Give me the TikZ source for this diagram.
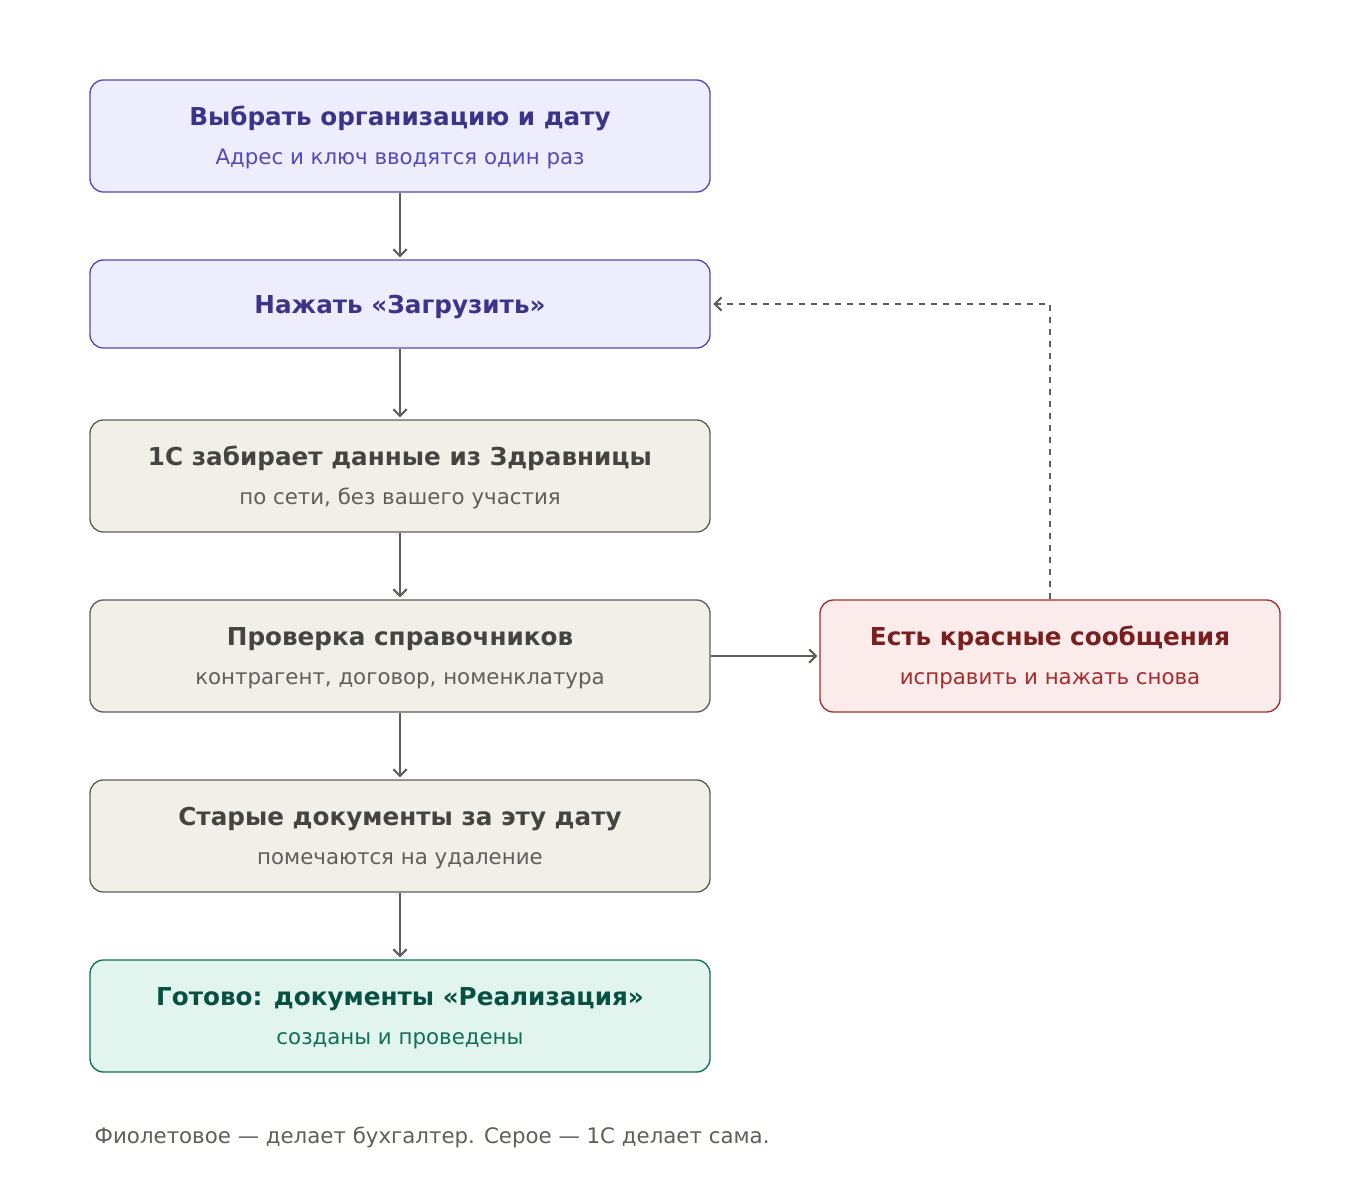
\documentclass[tikz,border=0pt]{standalone}
\usepackage{fontspec}
\setmainfont{DejaVu Sans}
\usetikzlibrary{arrows.meta,positioning}
\definecolor{purfill}{HTML}{EEEDFE}
\definecolor{purline}{HTML}{534AB7}
\definecolor{purtext}{HTML}{3C3489}
\definecolor{grayfill}{HTML}{F1EFE8}
\definecolor{grayline}{HTML}{5F5E5A}
\definecolor{graytext}{HTML}{444441}
\definecolor{redfill}{HTML}{FCEBEB}
\definecolor{redline}{HTML}{A32D2D}
\definecolor{redtext}{HTML}{791F1F}
\definecolor{grnfill}{HTML}{E1F5EE}
\definecolor{grnline}{HTML}{0F6E56}
\definecolor{grntext}{HTML}{085041}
\tikzset{
  box/.style={draw=#1line, fill=#1fill, rounded corners=10pt, line width=1pt,
    minimum width=465pt, minimum height=84pt, inner sep=0pt},
  ttl/.style={anchor=base, font=\fontsize{18.5}{22}\selectfont\bfseries, text=#1},
  sub/.style={anchor=base, font=\fontsize{16}{19}\selectfont, text=#1},
  flow/.style={-{Straight Barb[length=5pt,width=10pt]}, line width=1.6pt, draw=grayline},
}
\begin{document}
\begin{tikzpicture}[x=0.75pt,y=-0.75pt]
    \useasboundingbox (0,0) rectangle (1360,1200);
    % Main column
    \node[box=pur] (pick) at (400,136) {};
    \node[ttl=purtext] (pickT) at (400,125) {Выбрать организацию и дату};
    \node[sub=purline] (pickS) at (400,164) {Адрес и ключ вводятся один раз};

    \node[box=pur, minimum height=66pt] (load) at (400,304) {};
    \node[ttl=purtext] (loadT) at (400,313) {Нажать «Загрузить»};

    \node[box=gray] (fetch) at (400,476) {};
    \node[ttl=graytext] (fetchT) at (400,465) {1С забирает данные из Здравницы};
    \node[sub=grayline] (fetchS) at (400,504) {по сети, без вашего участия};

    \node[box=gray] (check) at (400,656) {};
    \node[ttl=graytext] (checkT) at (400,645) {Проверка справочников};
    \node[sub=grayline] (checkS) at (400,684) {контрагент, договор, номенклатура};

    \node[box=gray] (old) at (400,836) {};
    \node[ttl=graytext] (oldT) at (400,825) {Старые документы за эту дату};
    \node[sub=grayline] (oldS) at (400,864) {помечаются на удаление};

    \node[box=grn] (done) at (400,1016) {};
    \node[ttl=grntext] (doneT) at (400,1005) {Готово: документы «Реализация»};
    \node[sub=grnline] (doneS) at (400,1044) {созданы и проведены};

    % Error branch
    \node[box=red, minimum width=345pt] (err) at (1050,656) {};
    \node[ttl=redtext] (errT) at (1050,645) {Есть красные сообщения};
    \node[sub=redline] (errS) at (1050,684) {исправить и нажать снова};

    % Connectors
    \foreach \a/\b in {pick/load, load/fetch, fetch/check, check/old, old/done}
        \draw[flow] (\a.south) -- ([yshift=1.5pt]\b.north);
    \draw[flow] (check.east) -- ([xshift=-1.5pt]err.west);
    \draw[flow, dashed, dash pattern=on 5pt off 4pt] (err.north) |- ([xshift=2pt]load.east);

    % Legend
    \node[anchor=base west, font=\fontsize{16}{19}\selectfont, text=grayline] (legend) at (90,1143)
        {Фиолетовое — делает бухгалтер. Серое — 1С делает сама.};
\end{tikzpicture}
\end{document}
